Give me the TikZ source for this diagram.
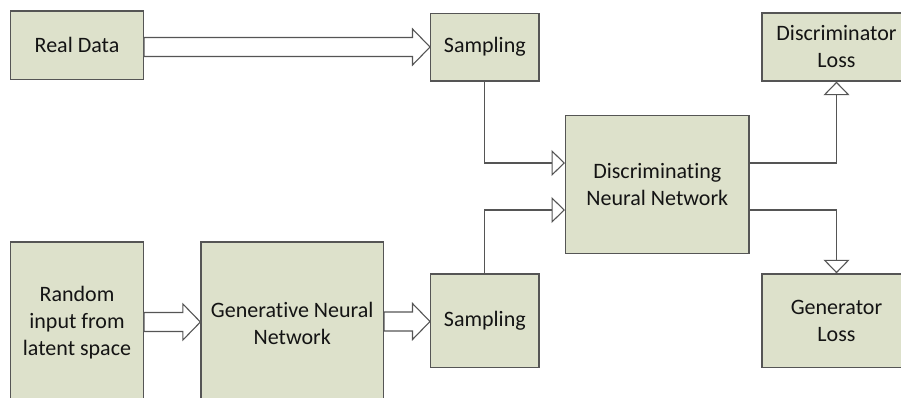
\documentclass[tikz,border=0pt]{standalone}
\usepackage{fontspec}
\setmainfont{Carlito}[Ligatures={NoCommon}]
\usetikzlibrary{arrows.meta,calc}
\definecolor{boxfill}{HTML}{DDE1CB}
\definecolor{boxline}{HTML}{555555}
\definecolor{txt}{HTML}{141414}
\tikzset{
  block/.style={draw=boxline, line width=1.3pt, fill=boxfill, rectangle,
    align=center, text=txt, inner sep=0pt,
    font=\fontsize{22}{27}\selectfont},
  link/.style={draw=boxline, line width=1.2pt,
    -{Triangle[length=13.5pt,width=26pt,fill=white,line width=1.1pt]}},
  fatarrow/.style={draw=boxline, line width=1.1pt, fill=white, line join=miter}
}
% block arrow: #1 source node, #2 target node, #3 centre y
\newcommand{\blockarrow}[3]{%
  \path let \p1=(#1.east), \p2=(#2.west) in
    [fatarrow] (\x1,#3-9.5) -- (\x2-17.5pt,#3-9.5) -- (\x2-17.5pt,#3-18)
      -- (\x2,#3) -- (\x2-17.5pt,#3+18) -- (\x2-17.5pt,#3+9.5)
      -- (\x1,#3+9.5) -- cycle;}
\begin{document}
\begin{tikzpicture}[x=1pt,y=-1pt]
\useasboundingbox (0,0) rectangle (901,397);
\clip (0,0) rectangle (901,397);

\node[block, minimum width=132.6pt, minimum height=68.3pt] (real) at (77,45) {Real Data};
\node[block, minimum width=108.3pt, minimum height=67.7pt] (samp1) at (484.8,47.2) {Sampling};
\node[block, minimum width=149pt, minimum height=68pt] (dloss) at (836.5,47) {Discriminator\\Loss};
\node[block, minimum width=183.3pt, minimum height=137.6pt] (dnn) at (657.3,184.5) {Discriminating\\Neural Network};
\node[block, minimum width=132.6pt, minimum height=162pt] (rand) at (77,323) {Random\\input from\\latent space};
\node[block, minimum width=182.3pt, minimum height=162pt] (gen) at (292.2,323) {Generative Neural\\Network};
\node[block, minimum width=108.3pt, minimum height=93.7pt] (samp2) at (484.8,320.8) {Sampling};
\node[block, minimum width=149pt, minimum height=93.7pt] (gloss) at (836.5,320.8) {Generator\\Loss};

% wide hollow arrows
\blockarrow{real}{samp1}{47}
\blockarrow{rand}{gen}{322}
\blockarrow{gen}{samp2}{321.5}

% ports on the discriminating network
\coordinate (din1) at ($(dnn.west)+(0,-21.5)$);
\coordinate (din2) at ($(dnn.west)+(0,25.5)$);
\coordinate (dout1) at ($(dnn.east)+(0,-21.5)$);
\coordinate (dout2) at ($(dnn.east)+(0,25.5)$);

\draw[link] (samp1.south) |- (din1);
\draw[link] (samp2.north) |- (din2);
\draw[link] (dout1) -| (dloss.south);
\draw[link] (dout2) -| (gloss.north);
\end{tikzpicture}
\end{document}
